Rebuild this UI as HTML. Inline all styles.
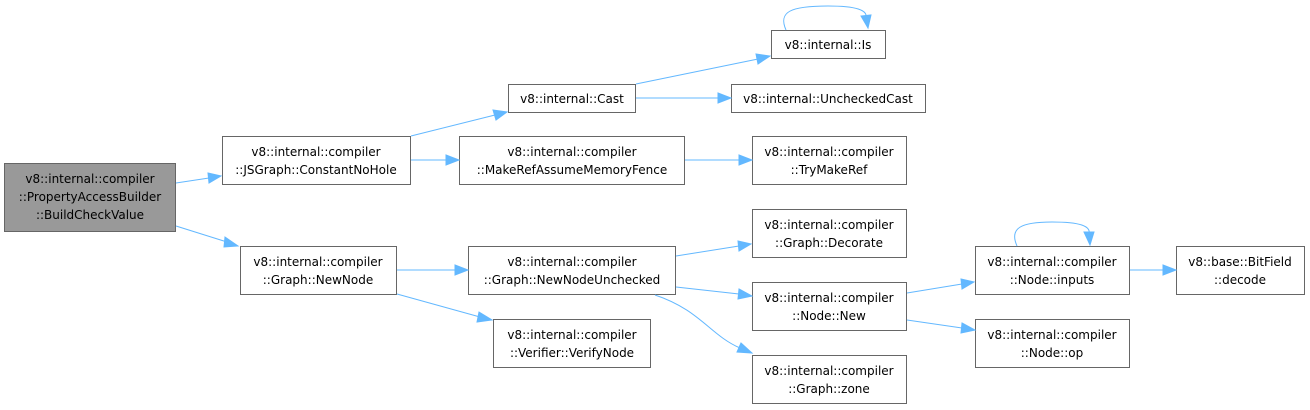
<!DOCTYPE html>
<html><head><meta charset="utf-8"><style>
html,body{margin:0;padding:0;background:#fff;}
svg{display:block;font-family:"DejaVu Sans","Liberation Sans",sans-serif;font-size:12px;}
rect{fill:#fff;stroke:#666;stroke-width:1;}
text{fill:#000;text-anchor:middle;}
.e{fill:none;stroke:#63b8ff;stroke-width:1;}
.a{fill:#63b8ff;stroke:#63b8ff;}
</style></head><body>
<svg width="1310" height="410" viewBox="0 0 1310 410">
<rect x="4.5" y="163.5" width="171" height="68" style="fill:#999"/>
<text x="90" y="183">v8::internal::compiler</text>
<text x="90" y="201">::PropertyAccessBuilder</text>
<text x="90" y="219">::BuildCheckValue</text>

<rect x="222.5" y="136.5" width="188" height="48"/>
<text x="316" y="156">v8::internal::compiler</text>
<text x="316" y="174">::JSGraph::ConstantNoHole</text>

<rect x="240.5" y="246.5" width="156" height="48"/>
<text x="318" y="266">v8::internal::compiler</text>
<text x="318" y="284">::Graph::NewNode</text>

<rect x="508.5" y="84.5" width="127" height="28"/>
<text x="572" y="103">v8::internal::Cast</text>

<rect x="459.5" y="136.5" width="225" height="48"/>
<text x="572" y="156">v8::internal::compiler</text>
<text x="572" y="174">::MakeRefAssumeMemoryFence</text>

<rect x="468.5" y="246.5" width="207" height="48"/>
<text x="572" y="266">v8::internal::compiler</text>
<text x="572" y="284">::Graph::NewNodeUnchecked</text>

<rect x="493.5" y="319.5" width="157" height="48"/>
<text x="572" y="339">v8::internal::compiler</text>
<text x="572" y="357">::Verifier::VerifyNode</text>

<rect x="771.5" y="30.5" width="114" height="28"/>
<text x="828" y="49">v8::internal::Is</text>

<rect x="731.5" y="84.5" width="194" height="28"/>
<text x="828" y="103">v8::internal::UncheckedCast</text>

<rect x="752.5" y="136.5" width="154" height="48"/>
<text x="829" y="156">v8::internal::compiler</text>
<text x="829" y="174">::TryMakeRef</text>

<rect x="752.5" y="209.5" width="154" height="48"/>
<text x="829" y="229">v8::internal::compiler</text>
<text x="829" y="247">::Graph::Decorate</text>

<rect x="752.5" y="282.5" width="154" height="48"/>
<text x="829" y="302">v8::internal::compiler</text>
<text x="829" y="320">::Node::New</text>

<rect x="752.5" y="355.5" width="154" height="48"/>
<text x="829" y="375">v8::internal::compiler</text>
<text x="829" y="393">::Graph::zone</text>

<rect x="975.5" y="246.5" width="154" height="48"/>
<text x="1052" y="266">v8::internal::compiler</text>
<text x="1052" y="284">::Node::inputs</text>

<rect x="975.5" y="319.5" width="154" height="48"/>
<text x="1052" y="339">v8::internal::compiler</text>
<text x="1052" y="357">::Node::op</text>

<rect x="1176.5" y="246.5" width="128" height="48"/>
<text x="1240" y="266">v8::base::BitField</text>
<text x="1240" y="284">::decode</text>

<path class="e" d="M176,183 L209,178"/><polygon class="a" points="208,173 221,176 209,183"/>
<path class="e" d="M176,226 L227,242"/><polygon class="a" points="225,237 238,246 224,247"/>
<path class="e" d="M411,136 L495,115"/><polygon class="a" points="493,110 507,112 496,120"/>
<path class="e" d="M411,160 L446,160"/><polygon class="a" points="446,155 459,160 446,165"/>
<path class="e" d="M397,270 L455,270"/><polygon class="a" points="455,265 468,270 455,275"/>
<path class="e" d="M397,294 L480,317"/><polygon class="a" points="479,312 492,320 477,322"/>
<path class="e" d="M636,84 L758,59"/><polygon class="a" points="756,54 770,56 758,64"/>
<path class="e" d="M636,98 L718,98"/><polygon class="a" points="718,93 731,98 718,103"/>
<path class="e" d="M685,160 L739,160"/><polygon class="a" points="739,155 752,160 739,165"/>
<path class="e" d="M676,256 L739,246"/><polygon class="a" points="738,241 751,244 739,251"/>
<path class="e" d="M676,287 L739,294"/><polygon class="a" points="739,289 752,296 738,299"/>
<path class="e" d="M655,295 C700,310 710,335 740,348"/><polygon class="a" points="741,343 752,353 737,352"/>
<path class="e" d="M907,293 L962,284"/><polygon class="a" points="961,279 974,282 962,289"/>
<path class="e" d="M907,320 L962,328"/><polygon class="a" points="962,323 975,330 961,333"/>
<path class="e" d="M1130,270 L1163,270"/><polygon class="a" points="1163,265 1176,270 1163,275"/>
<path class="e" d="M786,30 C778,12 790,6 828,6 C856,6 868,10 866,18"/><polygon class="a" points="861,16 868,28 871,15"/>
<path class="e" d="M1017,246 C1009,228 1021,222 1052,222 C1080,222 1091,226 1089,234"/><polygon class="a" points="1084,232 1090,245 1094,232"/>
</svg>
</body></html>
